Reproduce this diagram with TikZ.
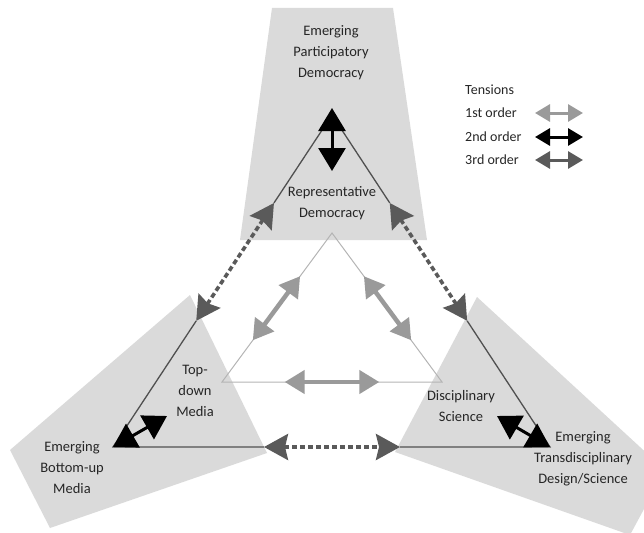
\documentclass[tikz,border=0pt]{standalone}
\usepackage{fontspec}
\setmainfont{Carlito}
\usetikzlibrary{arrows.meta,calc}
\definecolor{regiongray}{HTML}{DADADA}
\definecolor{txtgray}{HTML}{262626}
\definecolor{outerline}{HTML}{505050}
\definecolor{innerline}{HTML}{B4B4B4}
\definecolor{firstc}{HTML}{9A9A9A}
\definecolor{thirdc}{HTML}{5A5A5A}
\begin{document}
\begin{tikzpicture}[x=1pt,y=-1pt,
  region/.style={fill=regiongray, draw=none},
  lbl/.style={font=\fontsize{14.5}{21}\selectfont, text=txtgray, align=center, inner sep=0pt},
  leglbl/.style={font=\fontsize{14}{16}\selectfont, text=txtgray, anchor=west, inner sep=0pt},
  outerl/.style={draw=outerline, line width=1.3pt},
  innerl/.style={draw=innerline, line width=1pt},
  firstarrow/.style={draw=firstc, line width=4.5pt, {Triangle[length=20pt,width=23pt]}-{Triangle[length=20pt,width=23pt]}},
  secondarrow/.style={draw=black, line width=3pt, {Triangle[length=23pt,width=27pt]}-{Triangle[length=23pt,width=27pt]}},
  thirdarrow/.style={draw=thirdc, line width=3.6pt, dash pattern=on 5pt off 3pt, {Stealth[length=24pt,width=26pt,inset=3pt]}-{Stealth[length=24pt,width=26pt,inset=3pt]}},
  legfirst/.style={draw=firstc, line width=3pt, {Triangle[length=15pt,width=17pt]}-{Triangle[length=15pt,width=17pt]}},
  legsecond/.style={draw=black, line width=3pt, {Triangle[length=15pt,width=17pt]}-{Triangle[length=15pt,width=17pt]}},
  legthird/.style={draw=thirdc, line width=3pt, {Triangle[length=15pt,width=17pt]}-{Triangle[length=15pt,width=17pt]}}
]
\useasboundingbox (0,0) rectangle (644,532);
\clip (0,0) rectangle (644,532);

% gray regions
\path[region] (272,8) -- (393,8) -- (427,240) -- (240,240) -- cycle;
\path[region] (190,295) -- (267,453) -- (50,528) -- (10,450) -- cycle;
\path[region] (477,297) -- (665,470) -- (630,535) -- (395,452) -- cycle;

% outer triangle vertices
\coordinate (T) at (332,115);
\coordinate (L) at (113,447);
\coordinate (R) at (550,447);
% inner triangle vertices
\coordinate (iT) at (332,233);
\coordinate (iL) at (222,382);
\coordinate (iR) at (442,382);

% dashed (3rd order) arrow tips on the outer edges
\coordinate (lD) at ($(L)!0.38!(T)$);
\coordinate (lU) at ($(L)!0.735!(T)$);
\coordinate (rD) at ($(R)!0.38!(T)$);
\coordinate (rU) at ($(R)!0.735!(T)$);
\coordinate (bL) at (264,447);
\coordinate (bR) at (400,447);

% inner triangle
\draw[innerl] (iT) -- (iL) -- (iR) -- cycle;

% outer triangle segments
\draw[outerl] (lD) -- (L) -- (bL);
\draw[outerl] (bR) -- (R) -- (rD);
\draw[outerl] (lU) -- (T) -- (rU);

% 1st order arrows (inner)
\draw[firstarrow] ($(iL)!0.28!(iT)$) -- ($(iL)!0.71!(iT)$);
\draw[firstarrow] ($(iR)!0.28!(iT)$) -- ($(iR)!0.71!(iT)$);
\draw[firstarrow] ($(iL)!0.285!(iR)$) -- ($(iL)!0.715!(iR)$);

% 3rd order arrows (dashed)
\draw[thirdarrow] (lD) -- (lU);
\draw[thirdarrow] (rD) -- (rU);
\draw[thirdarrow] (bL) -- (bR);

% 2nd order arrows (black)
\coordinate (tA) at (332,108);
\coordinate (tB) at (332,171);
\coordinate (blB) at (167,416);
\coordinate (brB) at (497,416);
\draw[secondarrow] (tB) -- (tA);
\draw[secondarrow] (blB) -- (L);
\draw[secondarrow] (brB) -- (R);

% labels
\node[lbl] (epd) at (331,53) {Emerging\\Participatory\\Democracy};
\node[lbl] (rd) at (332,203) {Representative\\Democracy};
\node[lbl] (tdm) at (195,391) {Top-\\down\\Media};
\node[lbl] (ebm) at (72,468) {Emerging\\Bottom-up\\Media};
\node[lbl] (ds) at (461,406) {Disciplinary\\Science};
\node[lbl] (etd) at (583,459) {Emerging\\Transdisciplinary\\Design/Science};

% legend
\node[leglbl] (ten) at (465,90) {Tensions};
\node[leglbl] (o1) at (465,113) {1st order};
\node[leglbl] (o2) at (465,137) {2nd order};
\node[leglbl] (o3) at (465,160) {3rd order};
\coordinate (a1s) at (535,113); \coordinate (a1e) at (583,113);
\coordinate (a2s) at (535,137); \coordinate (a2e) at (583,137);
\coordinate (a3s) at (535,160); \coordinate (a3e) at (583,160);
\draw[legfirst] (a1s) -- (a1e);
\draw[legsecond] (a2s) -- (a2e);
\draw[legthird] (a3s) -- (a3e);
\end{tikzpicture}
\end{document}
